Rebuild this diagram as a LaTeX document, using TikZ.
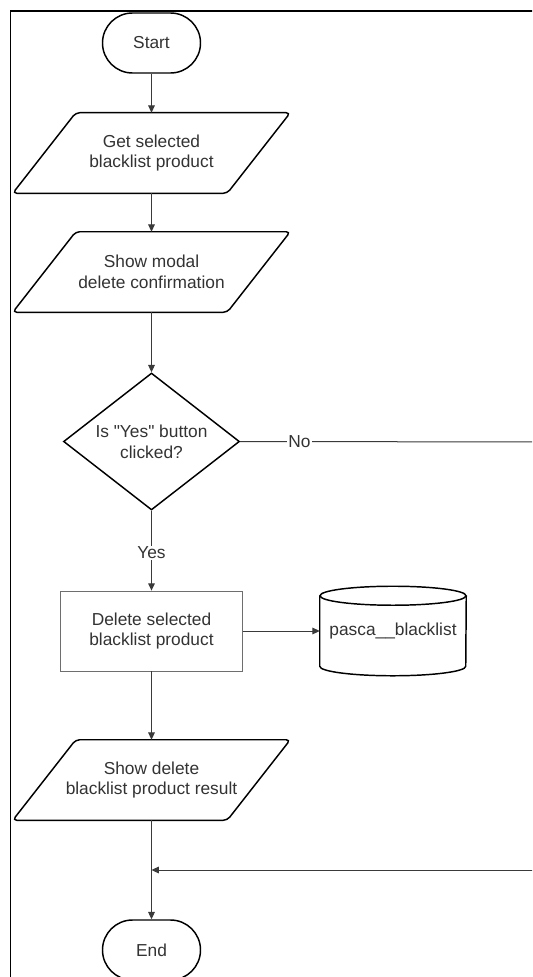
\documentclass[tikz,border=0pt]{standalone}
\usepackage{fontspec}
\setmainfont{Liberation Sans}
\usetikzlibrary{shapes.geometric,arrows.meta,calc}

\definecolor{ink}{HTML}{333333}
\definecolor{wire}{HTML}{3A3A3A}
\definecolor{boxline}{HTML}{6E6E6E}

\tikzset{
  x=0.75pt, y=-0.75pt,
  txt/.style={font=\fontsize{13pt}{15.5pt}\selectfont, text=ink, align=center},
  outline/.style={draw=black, line width=1.1pt},
  terminal/.style={txt, outline, rectangle, rounded corners=22.5pt,
    minimum width=98*0.75pt, minimum height=60*0.75pt, inner sep=0pt},
  iobox/.style={txt, rectangle, minimum width=277*0.75pt,
    minimum height=80*0.75pt, inner sep=0pt},
  decision/.style={txt, outline, diamond, shape aspect=1.28,
    minimum width=176*0.75pt, minimum height=137*0.75pt, inner sep=0pt},
  process/.style={txt, draw=boxline, line width=0.6pt, rectangle,
    minimum width=182*0.75pt, minimum height=80*0.75pt, inner sep=0pt},
  store/.style={txt, rectangle, minimum width=146*0.75pt,
    minimum height=89*0.75pt, inner sep=0pt},
  link/.style={draw=wire, line width=0.75pt},
  arrow/.style={link, -{Triangle[length=5.5pt, width=5pt]}},
  lbl/.style={txt, fill=white, inner sep=1pt},
}

\begin{document}
\begin{tikzpicture}
  \useasboundingbox (0,0) rectangle (532,977);
  \clip (0,0) rectangle (532,977);
  \fill[white] (0,0) rectangle (532,977);

  % page frame
  \draw[draw=black, line width=1.2pt] (10.5,11) rectangle (600,1050);

  % nodes
  \node[terminal] (start) at (151.5,43) {Start};
  \node[iobox] (get) at (151.5,153) {Get selected\\blacklist product};
  \node[iobox] (modal) at (151.5,272) {Show modal\\delete confirmation};
  \node[decision] (dec) at (151.5,441.5)
    {Is \textquotedbl Yes\textquotedbl{} button\\clicked?};
  \node[process] (del) at (151.5,631) {Delete selected\\blacklist product};
  \node[store] (db) at (393,631) {pasca\_\_blacklist};
  \node[iobox] (res) at (151.5,780) {Show delete\\blacklist product result};
  \node[terminal] (end) at (151.5,950) {End};

  % parallelogram outlines of the input/output boxes
  \foreach \n in {get,modal,res}
    \draw[outline, rounded corners=3pt]
      (\n.south west) -- ($(\n.north west)+(63,0)$) -- (\n.north east)
      -- ($(\n.south east)-(63,0)$) -- cycle;

  % database cylinder
  \draw[outline]
    ($(db.north west)+(0,9.5)$) -- ($(db.south west)+(0,-9.5)$)
    arc[start angle=180, end angle=360, x radius=54.75pt, y radius=7.125pt]
    -- ($(db.north east)+(0,9.5)$);
  \draw[outline] ($(db.north)+(0,9.5)$) ellipse[x radius=54.75pt, y radius=7.125pt];

  % off-page ends of the "No" branch
  \coordinate (noend) at (560,442);
  \coordinate (retstart) at (560,870);
  \coordinate (merge) at (151.5,870);

  % connectors
  \draw[arrow] (start) -- (get);
  \draw[arrow] (get) -- (modal);
  \draw[arrow] (modal) -- (dec);
  \draw[link] (dec.east) -- node[lbl, pos=0.185] {No} (noend);
  \draw[arrow] (dec) -- node[lbl, pos=0.53] {Yes} (del);
  \draw[arrow] (del.east) -- (db.west);
  \draw[arrow] (del) -- (res);
  \draw[arrow] (res) -- (end);
  \draw[arrow] (retstart) -- (merge);
\end{tikzpicture}
\end{document}
